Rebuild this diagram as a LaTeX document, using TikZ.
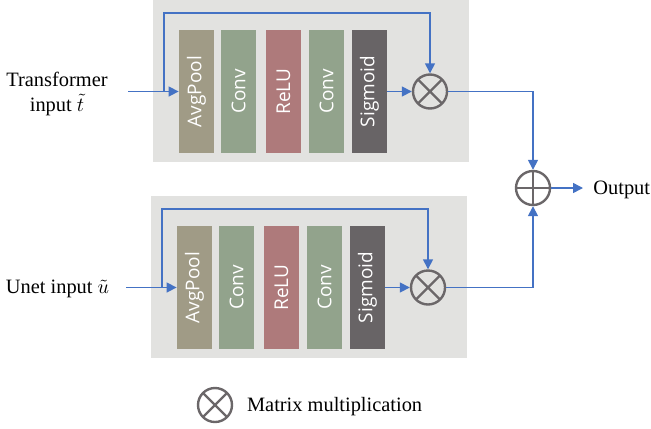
\documentclass[tikz,border=0pt]{standalone}
\usepackage{fontspec}
\setmainfont{Liberation Serif}
\setsansfont{Open Sans}
\usepackage{amsmath}
\usepackage{tikz}
\usetikzlibrary{arrows.meta}
\definecolor{boxgray}{HTML}{E2E2E0}
\definecolor{poolcol}{HTML}{A09B86}
\definecolor{convcol}{HTML}{92A38C}
\definecolor{relucol}{HTML}{AE7A7B}
\definecolor{sigcol}{HTML}{686466}
\definecolor{linkblue}{HTML}{4472C4}
\definecolor{circgray}{HTML}{6B6769}
\tikzstyle{layer} = [draw=none, rotate=90, minimum width=61.5pt, minimum height=17.5pt,
	inner sep=0pt, text=white, font=\sffamily\fontsize{9.5}{9.5}\selectfont]
\tikzstyle{flow} = [draw=linkblue, line width=0.75pt, -{Triangle[length=5pt,width=5pt]}]
\tikzstyle{mult} = [circle, draw=circgray, line width=1.2pt, minimum size=17pt, inner sep=0pt,
	path picture={\draw[circgray, line width=1.2pt]
		(path picture bounding box.south west) -- (path picture bounding box.north east)
		(path picture bounding box.north west) -- (path picture bounding box.south east);}]
\tikzstyle{addop} = [circle, draw=circgray, line width=1.2pt, minimum size=17pt, inner sep=0pt,
	path picture={\draw[circgray, line width=1.2pt]
		(path picture bounding box.south) -- (path picture bounding box.north)
		(path picture bounding box.west) -- (path picture bounding box.east);}]
\tikzstyle{label} = [font=\fontsize{10.2}{12.5}\selectfont, align=center]

\begin{document}
\begin{tikzpicture}[x=0.5pt, y=-0.5pt]
			\useasboundingbox (0,0) rectangle (651,428);
			
			\foreach \b/\dx/\dy in {t/0/0, u/-2/196}{
				\begin{scope}[shift={(\dx,\dy)}]
				\fill [boxgray] (153,0) rectangle (469,162);
				\node [layer, fill=poolcol] (\b-pool) at (196.5,91.5) {AvgPool};
				\node [layer, fill=convcol] (\b-conva) at (238.5,91.5) {Conv};
				\node [layer, fill=relucol] (\b-relu) at (283.5,91.5) {ReLU};
				\node [layer, fill=convcol] (\b-convb) at (326.5,91.5) {Conv};
				\node [layer, fill=sigcol] (\b-sig) at (369.5,91.5) {Sigmoid};
				\node [mult] (\b-mul) at (430,91.5) {};
				\coordinate (\b-in) at (128,91.5);
				\coordinate (\b-fork) at (164,91.5);
				\coordinate (\b-top) at (164,13);
				\end{scope}
			}
			
			\node [label] (tlabel) at (57,94) {Transformer\\input $\tilde{t}$};
			\node [label] (ulabel) at (57.5,289) {Unet input $\tilde{u}$};
			\node [addop] (plus) at (533,188) {};
			\node [label, anchor=west, inner sep=5pt] (out) at (583,190) {Output};
			\node [mult] (legmul) at (215,405) {};
			\node [label, anchor=west] (legtext) at (240,407) {Matrix multiplication};
			
			\foreach \b in {t,u}{
				\draw [flow] (\b-in) -- (\b-pool);
				\draw [flow] (\b-fork) -- (\b-top) -| (\b-mul);
				\draw [flow] (\b-sig) -- (\b-mul);
				\draw [flow] (\b-mul) -| (plus);
			}
			\draw [flow] (plus) -- (583,188);
			
			\end{tikzpicture}
\end{document}
